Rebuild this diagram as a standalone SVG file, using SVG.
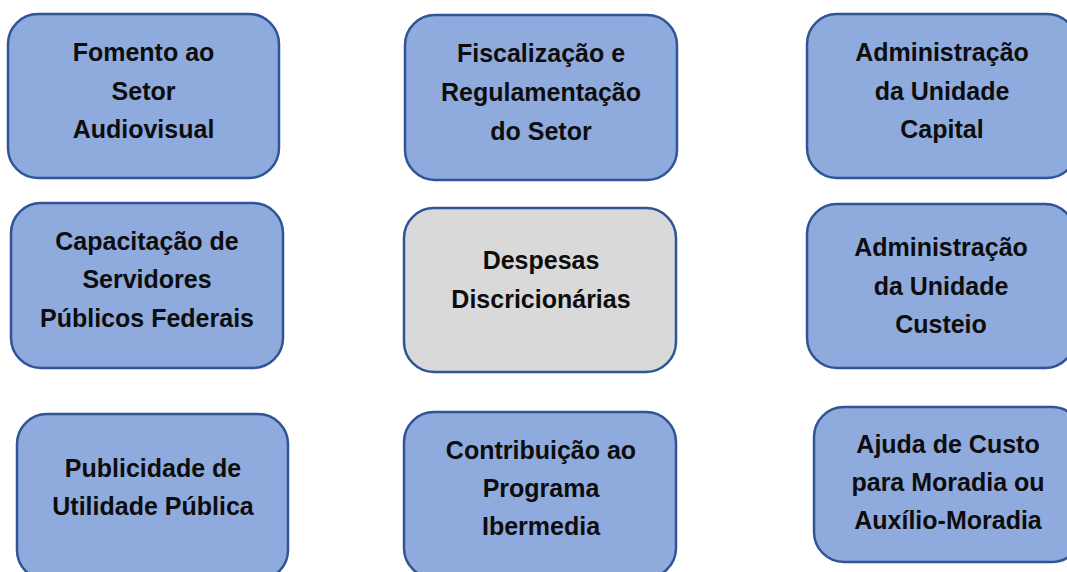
<svg xmlns="http://www.w3.org/2000/svg" width="1067" height="572" viewBox="0 0 1067 572">
<style>
.box{fill:#8faadc;stroke:#2f5597;stroke-width:2.5}
.grey{fill:#d9d9d9}
.t{font-family:"Liberation Sans",Arial,sans-serif;font-weight:bold;font-size:25px;fill:#0d0d0d;text-anchor:middle}
</style>
<rect width="1067" height="572" fill="#ffffff"/>
<g id="connectors"></g>
<g id="fomento">
<rect class="box" x="8" y="14" width="271" height="164" rx="30"/>
<text class="t" x="143.5" y="61">Fomento ao</text>
<text class="t" x="143.5" y="100">Setor</text>
<text class="t" x="143.5" y="138">Audiovisual</text>
</g>
<g id="fiscalizacao">
<rect class="box" x="405" y="15" width="272" height="165" rx="30"/>
<text class="t" x="541" y="62">Fiscalização e</text>
<text class="t" x="541" y="101">Regulamentação</text>
<text class="t" x="541" y="140">do Setor</text>
</g>
<g id="adm-capital">
<rect class="box" x="807" y="14" width="270" height="164" rx="30"/>
<text class="t" x="942" y="61">Administração</text>
<text class="t" x="942" y="100">da Unidade</text>
<text class="t" x="942" y="138">Capital</text>
</g>
<g id="capacitacao">
<rect class="box" x="11" y="203" width="272" height="165" rx="30"/>
<text class="t" x="147" y="250">Capacitação de</text>
<text class="t" x="147" y="288">Servidores</text>
<text class="t" x="147" y="327">Públicos Federais</text>
</g>
<g id="despesas">
<rect class="box grey" x="404" y="208" width="272" height="164" rx="30"/>
<text class="t" x="541" y="269">Despesas</text>
<text class="t" x="541" y="308">Discricionárias</text>
</g>
<g id="adm-custeio">
<rect class="box" x="807" y="204" width="268" height="164" rx="30"/>
<text class="t" x="941" y="256">Administração</text>
<text class="t" x="941" y="295">da Unidade</text>
<text class="t" x="941" y="333">Custeio</text>
</g>
<g id="publicidade">
<rect class="box" x="17" y="414" width="271" height="166" rx="30"/>
<text class="t" x="153" y="477">Publicidade de</text>
<text class="t" x="153" y="515">Utilidade Pública</text>
</g>
<g id="ibermedia">
<rect class="box" x="404" y="412" width="272" height="166" rx="30"/>
<text class="t" x="541" y="459">Contribuição ao</text>
<text class="t" x="541" y="497">Programa</text>
<text class="t" x="541" y="535">Ibermedia</text>
</g>
<g id="auxilio">
<rect class="box" x="814" y="407" width="268" height="155" rx="30"/>
<text class="t" x="948" y="453">Ajuda de Custo</text>
<text class="t" x="948" y="491">para Moradia ou</text>
<text class="t" x="948" y="529">Auxílio-Moradia</text>
</g>
</svg>
